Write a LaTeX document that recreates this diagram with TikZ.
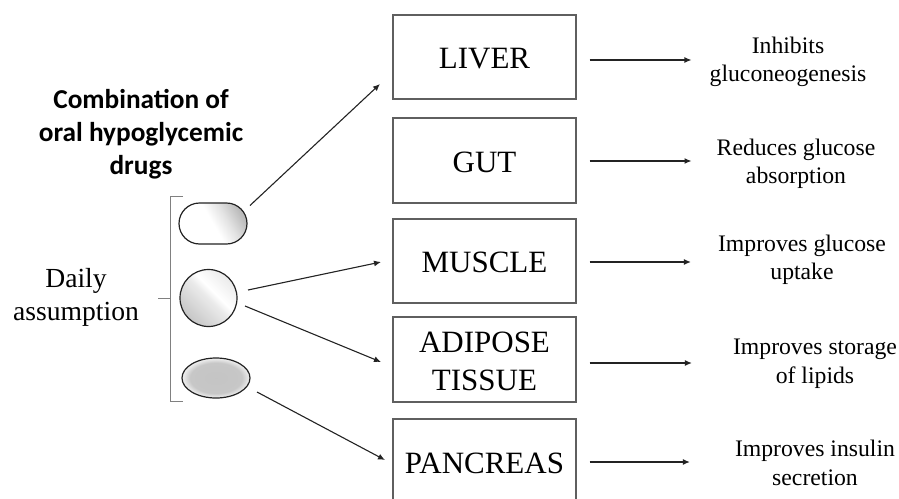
\documentclass[tikz,border=0pt]{standalone}
\usepackage{fontspec}
\setmainfont{Liberation Serif}
\newfontfamily\titlefont{Carlito}
\usetikzlibrary{arrows.meta, shapes.geometric, shapes.misc}
\definecolor{BoxColor}{RGB}{95,95,95}
\definecolor{LineColor}{RGB}{35,35,35}
\pgfdeclareverticalshading{pillcapsule}{100bp}{
  color(0bp)=(white); color(50bp)=(white); color(62bp)=(gray!22); color(76bp)=(gray!55); color(100bp)=(gray!60)}
\pgfdeclareverticalshading{pillround}{100bp}{
  color(0bp)=(gray!50); color(25bp)=(gray!45); color(50bp)=(gray!16); color(57bp)=(white);
  color(75bp)=(gray!16); color(100bp)=(gray!16)}
\pgfdeclareradialshading{pilloval}{\pgfpoint{0bp}{0bp}}{
  color(0bp)=(gray!46); color(19bp)=(gray!44); color(23bp)=(gray!22); color(25bp)=(gray!12); color(50bp)=(gray!12)}
\tikzset{
  organ/.style={draw=BoxColor, line width=1.1pt, minimum width=183pt, inner sep=0pt, align=center,
    font=\fontsize{31}{38}\selectfont},
  organone/.style={organ, text height=24pt},
  effect/.style={inner sep=0pt, align=center, font=\fontsize{23.7}{28.5}\selectfont},
  pill/.style={draw=LineColor, line width=1.2pt, inner sep=0pt},
  link/.style={-{Latex[length=7pt,width=6pt]}, LineColor, line width=1.1pt},
}

\begin{document}
\begin{tikzpicture}[x=1pt, y=-1pt]
  \useasboundingbox (0,0) rectangle (899,498);
  % Title
  \node[inner sep=0pt, align=center, font=\titlefont\bfseries\fontsize{27.3}{33}\selectfont] (title) at (141,134)
    {Combination of\\oral hypoglycemic\\drugs};
  \node[inner sep=0pt, align=center, font=\fontsize{27.6}{33}\selectfont] (daily) at (76,297) {Daily\\assumption};
  % Bracket
  \draw[gray, line width=1pt] (183,196) -- (170,196) -- (170,401) -- (183,401);
  \draw[gray, line width=1pt] (158,298) -- (170,298);
  % Pills
  \node[pill, rounded rectangle, minimum width=68pt, minimum height=41pt,
    shading=pillcapsule, shading angle=-60] (capsule) at (213,223.5) {};
  \node[pill, circle, minimum size=57pt,
    shading=pillround, shading angle=-45] (round) at (208.5,298) {};
  \node[pill, ellipse, minimum width=68pt, minimum height=40pt, shading=pilloval] (oval) at (216,378) {};
  % Organs
  \node[organone, minimum height=84pt] (liver) at (484.5,57) {LIVER};
  \node[organone, minimum height=85pt] (gut) at (484.5,160.5) {GUT};
  \node[organone, minimum height=84pt] (muscle) at (484.5,261) {MUSCLE};
  \node[organ, minimum height=85pt] (adipose) at (484.5,359.5) {\rule{0pt}{25pt}ADIPOSE\\TISSUE};
  \node[organone, minimum height=86pt] (pancreas) at (484.5,462) {PANCREAS};
  % Effects
  \node[effect] (inhibits) at (788,62) {Inhibits\\gluconeogenesis};
  \node[effect] (reduces) at (796,164) {Reduces glucose\\absorption};
  \node[effect] (uptake) at (802,260) {Improves glucose\\uptake};
  \node[effect] (storage) at (815,364) {Improves storage\\of lipids};
  \node[effect] (insulin) at (815,463) {Improves insulin\\secretion};
  % Pill arrows
  \draw[link] ([shift={(37,-18)}]capsule.center) -- ([shift={(-104.5,27)}]liver.center);
  \draw[link] ([shift={(39.5,-8)}]round.center) -- ([shift={(-103.5,1)}]muscle.center);
  \draw[link] ([shift={(36.5,8)}]round.center) -- ([shift={(-103.5,2.5)}]adipose.center);
  \draw[link] ([shift={(41,14)}]oval.center) -- ([shift={(-99.5,-2)}]pancreas.center);
  % Organ arrows
  \foreach \organ/\fx/\gap/\dy in {liver/inhibits/18/-3, gut/reduces/25/-0.5, muscle/uptake/27/-1, adipose/storage/41/-3.5, pancreas/insulin/45/0} {
    \draw[link, shorten <=13pt, shorten >=\gap pt] ([yshift=\dy pt]\organ.east) -- ([yshift=\dy pt]\fx.west |- \organ.east);
  }
\end{tikzpicture}
\end{document}
